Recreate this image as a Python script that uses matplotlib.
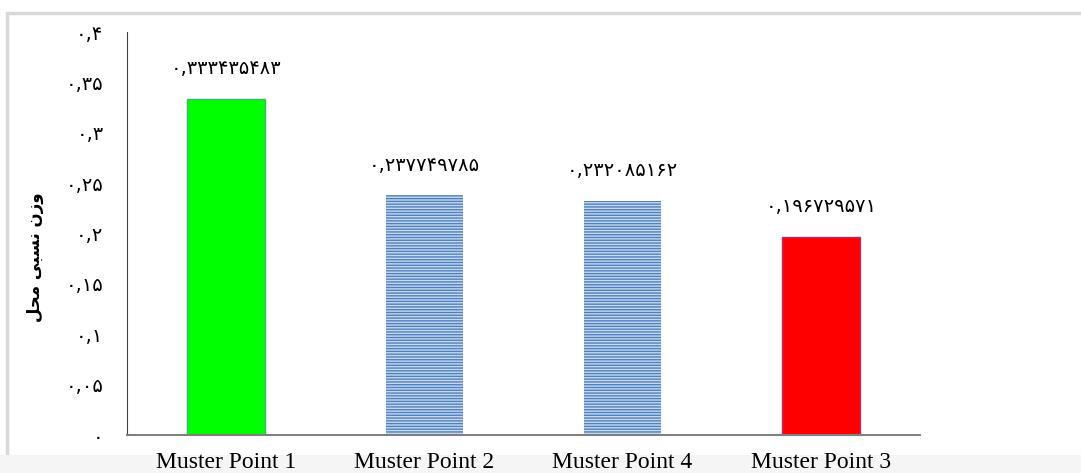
import matplotlib.pyplot as plt
from matplotlib.patches import Rectangle

categories = ['Muster Point 1', 'Muster Point 2', 'Muster Point 4', 'Muster Point 3']
weights = [0.333435483, 0.237749785, 0.232085162, 0.196729571]
value_texts = ['0,333435483', '0,237749785', '0,232085162', '0,196729571']
tick_values = [0, 0.05, 0.1, 0.15, 0.2, 0.25, 0.3, 0.35, 0.4]
tick_texts = ['0', '0,05', '0,1', '0,15', '0,2', '0,25', '0,3', '0,35', '0,4']

# "وزن نسبی محل" pre-shaped, in visual order
ylabel = '\ufede\ufea4\ufee3 \ufef0\ufe92\ufeb4\ufee7 \ufee5\ufeaf\ufeed'

fa_digits = str.maketrans('0123456789', '\u06f0\u06f1\u06f2\u06f3\u06f4\u06f5\u06f6\u06f7\u06f8\u06f9')

def fa(s):
    return s.translate(fa_digits)

fig = plt.figure(figsize=(10.81, 4.73), dpi=100)
W, H = 1081, 473

# outer chart border and bottom shadow band
fig.patches.append(Rectangle((7 / W, 0), 1.2, 1 - 13 / H, transform=fig.transFigure,
                             fill=False, edgecolor='#d9d9d9', linewidth=2.5, zorder=-2))
fig.patches.append(Rectangle((0, 0), 1, 18 / H, transform=fig.transFigure,
                             facecolor='#f5f5f5', edgecolor='none', zorder=-2))

ax = fig.add_axes([127 / W, 1 - 435 / H, (920 - 127) / W, (435 - 32) / H])
ax.patch.set_alpha(0)

x = list(range(len(categories)))
styles = [
    dict(color='#00ff00', edgecolor='#3cb371', linewidth=1.0),
    dict(color='#c6d9f1', edgecolor='#4f81bd', hatch='------', linewidth=0),
    dict(color='#c6d9f1', edgecolor='#4f81bd', hatch='------', linewidth=0),
    dict(color='#ff0000', edgecolor='#b0306a', linewidth=1.0),
]
for xi, w, st in zip(x, weights, styles):
    ax.bar(xi, w, width=0.39, **st)

for xi, w, t in zip(x, weights, value_texts):
    ax.annotate(fa(t), (xi, w), xytext=(0, 15), textcoords='offset points',
                ha='center', va='bottom', fontsize=14, family='DejaVu Sans')

ax.set_xlim(-0.5, 3.5)
ax.set_ylim(0, 0.4)
ax.set_yticks(tick_values)
ax.set_yticklabels([fa(t) for t in tick_texts], fontsize=14, family='DejaVu Sans')
ax.set_xticks(x)
ax.set_xticklabels(categories, fontsize=17, family='Liberation Serif')
ax.tick_params(axis='y', length=0, pad=17)
ax.tick_params(axis='x', length=0, pad=12)

for s in ['top', 'right']:
    ax.spines[s].set_visible(False)
ax.spines['left'].set_color('#404040')
ax.spines['bottom'].set_color('#808080')
ax.spines['bottom'].set_linewidth(1.5)

ax.set_ylabel(ylabel, fontsize=12, fontweight='bold', family='DejaVu Sans')
ax.yaxis.set_label_coords(-0.1047, 0.44)

fig.savefig('out.png', dpi=100)
